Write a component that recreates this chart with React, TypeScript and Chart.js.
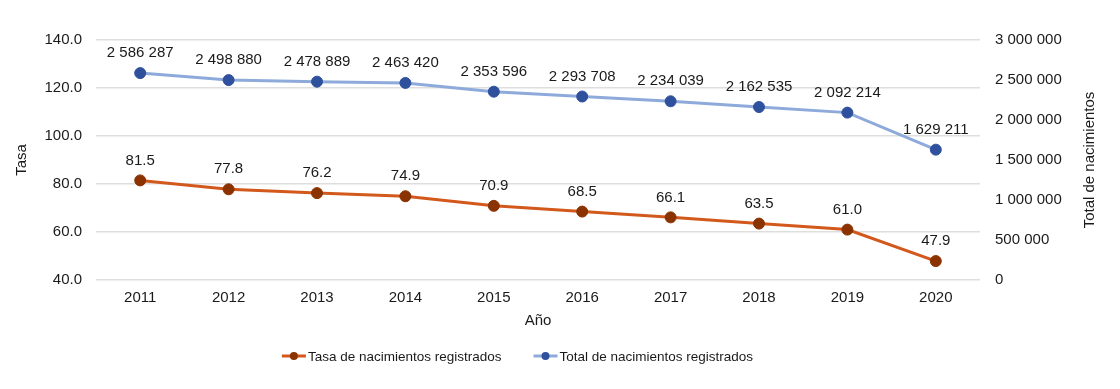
import React, { useEffect, useRef } from "react";
import { Chart, registerables } from "chart.js";

Chart.register(...registerables);

const years = ["2011", "2012", "2013", "2014", "2015", "2016", "2017", "2018", "2019", "2020"];
const tasa = [81.5, 77.8, 76.2, 74.9, 70.9, 68.5, 66.1, 63.5, 61.0, 47.9];
const total = [2586287, 2498880, 2478889, 2463420, 2353596, 2293708, 2234039, 2162535, 2092214, 1629211];
const tasaLabel = "Tasa de nacimientos registrados";
const totalLabel = "Total de nacimientos registrados";

const FONT = "Arial, 'Liberation Sans', sans-serif";
const TEXT = "#1a1a1a";
const ORANGE_LINE = "#d3581c";
const ORANGE_PT = "#8a3200";
const BLUE_LINE = "#8eaadb";
const BLUE_PT = "#2f509d";
const FS = 15;

const fmtThousands = (v: number) =>
  Math.round(v).toString().replace(/\B(?=(\d{3})+(?!\d))/g, " ");

const extrasPlugin = {
  id: "extras",
  afterDatasetsDraw(chart: any) {
    const ctx = chart.ctx;
    ctx.save();
    ctx.font = `${FS}px ${FONT}`;
    ctx.fillStyle = TEXT;
    ctx.textAlign = "center";
    ctx.textBaseline = "middle";
    chart.data.datasets.forEach((ds: any, i: number) => {
      const meta = chart.getDatasetMeta(i);
      meta.data.forEach((pt: any, j: number) => {
        const v = ds.data[j];
        const txt = i === 0 ? v.toFixed(1) : fmtThousands(v);
        ctx.fillText(txt, pt.x, pt.y - 20);
      });
    });
    ctx.restore();
  },
  afterDraw(chart: any) {
    const ctx = chart.ctx;
    ctx.save();
    // right axis title
    ctx.font = `${FS}px ${FONT}`;
    ctx.fillStyle = TEXT;
    ctx.textAlign = "center";
    ctx.textBaseline = "middle";
    const cy = (chart.chartArea.top + chart.chartArea.bottom) / 2;
    ctx.translate(1090, cy);
    ctx.rotate(-Math.PI / 2);
    ctx.fillText("Total de nacimientos", 0, 0);
    ctx.restore();

    // legend
    ctx.save();
    ctx.font = `13.5px ${FONT}`;
    ctx.textBaseline = "middle";
    ctx.textAlign = "left";
    const items = [
      { text: tasaLabel, line: ORANGE_LINE, pt: ORANGE_PT },
      { text: totalLabel, line: BLUE_LINE, pt: BLUE_PT },
    ];
    const markW = 24;
    const gapText = 2;
    const gapItems = 32;
    const widths = items.map((it) => markW + gapText + ctx.measureText(it.text).width);
    const totalW = widths.reduce((a, b) => a + b, 0) + gapItems;
    let x = 517.5 - totalW / 2;
    const y = 356;
    items.forEach((it, k) => {
      ctx.strokeStyle = it.line;
      ctx.lineWidth = 3;
      ctx.beginPath();
      ctx.moveTo(x, y);
      ctx.lineTo(x + markW, y);
      ctx.stroke();
      ctx.fillStyle = it.pt;
      ctx.beginPath();
      ctx.arc(x + markW / 2, y, 4, 0, Math.PI * 2);
      ctx.fill();
      ctx.fillStyle = TEXT;
      ctx.fillText(it.text, x + markW + gapText, y + 1);
      x += widths[k] + gapItems;
    });
    ctx.restore();
  },
};

export default function App() {
  const ref = useRef<HTMLCanvasElement | null>(null);

  useEffect(() => {
    if (!ref.current) return;
    const chart = new Chart(ref.current, {
      type: "line",
      data: {
        labels: years,
        datasets: [
          {
            label: tasaLabel,
            data: tasa,
            yAxisID: "y",
            borderColor: ORANGE_LINE,
            backgroundColor: ORANGE_PT,
            pointBackgroundColor: ORANGE_PT,
            pointBorderColor: ORANGE_PT,
            pointBorderWidth: 1,
            pointRadius: 5.5,
            borderWidth: 3,
            tension: 0,
          },
          {
            label: totalLabel,
            data: total,
            yAxisID: "y1",
            borderColor: BLUE_LINE,
            backgroundColor: BLUE_PT,
            pointBackgroundColor: BLUE_PT,
            pointBorderColor: BLUE_PT,
            pointBorderWidth: 1,
            pointRadius: 5.5,
            borderWidth: 3,
            tension: 0,
          },
        ],
      },
      options: {
        responsive: false,
        animation: false,
        layout: { padding: { top: 40, bottom: 49, left: 0, right: 0 } },
        plugins: {
          legend: { display: false },
          tooltip: { enabled: false },
        },
        scales: {
          x: {
            offset: true,
            grid: { display: false, drawTicks: false },
            border: { display: false },
            ticks: { color: TEXT, font: { family: FONT, size: FS }, padding: 9, maxRotation: 0 },
            title: {
              display: true,
              text: "Año",
              color: TEXT,
              font: { family: FONT, size: FS },
              padding: { top: 0, bottom: 10 },
            },
            afterFit(scale: any) {
              scale.height = 60;
            },
          },
          y: {
            position: "left",
            min: 40,
            max: 140,
            ticks: {
              stepSize: 20,
              color: TEXT,
              font: { family: FONT, size: FS },
              padding: 14,
              callback: (v: any) => Number(v).toFixed(1),
            },
            grid: { color: "#dedede", lineWidth: 1.5, drawTicks: false },
            border: { display: false },
            title: {
              display: true,
              text: "Tasa",
              color: TEXT,
              font: { family: FONT, size: FS },
              padding: { top: 13, bottom: 0 },
            },
            afterFit(scale: any) {
              scale.width = 96;
            },
          },
          y1: {
            position: "right",
            min: 0,
            max: 3000000,
            ticks: {
              stepSize: 500000,
              color: TEXT,
              font: { family: FONT, size: FS },
              padding: 15,
              callback: (v: any) => fmtThousands(Number(v)),
            },
            grid: { display: false, drawTicks: false },
            border: { display: false },
            afterFit(scale: any) {
              scale.width = 140;
            },
          },
        },
      },
      plugins: [extrasPlugin],
    } as any);
    return () => chart.destroy();
  }, []);

  return (
    <canvas
      ref={ref}
      width={1120}
      height={389}
      style={{ position: "fixed", left: 0, top: 0, width: 1120, height: 389, display: "block", background: "#fff" }}
    />
  );
}
